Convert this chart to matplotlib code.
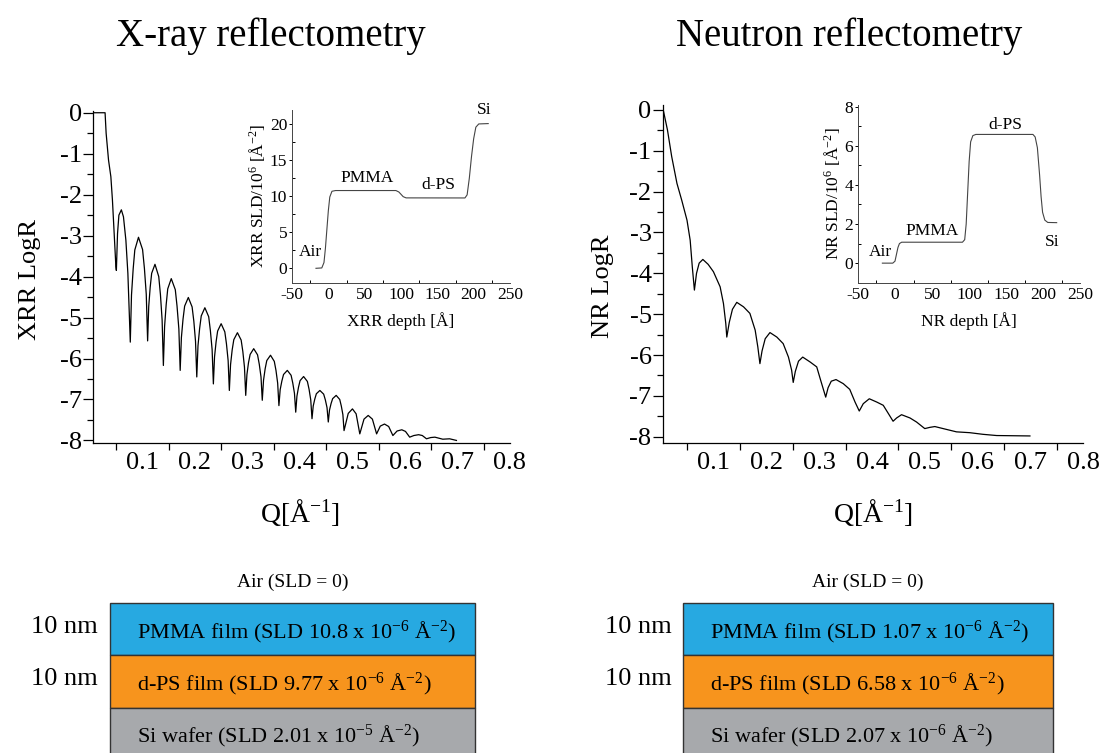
import matplotlib
matplotlib.use('Agg')
import matplotlib.pyplot as plt
from matplotlib.patches import Rectangle
from matplotlib.ticker import MultipleLocator, FixedLocator

plt.rcParams['font.family'] = ['Liberation Serif', 'DejaVu Serif']
plt.rcParams['mathtext.fontset'] = 'custom'
plt.rcParams['mathtext.rm'] = 'Liberation Serif'
plt.rcParams['mathtext.it'] = 'Liberation Serif:italic'
plt.rcParams['mathtext.bf'] = 'Liberation Serif:bold'
plt.rcParams['axes.unicode_minus'] = False

# ---- X-ray reflectivity curve ----
xrr_q = [0.006, 0.029, 0.031, 0.0356, 0.040, 0.043, 0.0464, 0.0496, 0.0505,
         0.0527, 0.0553, 0.060, 0.064, 0.0686, 0.0724, 0.077,
         0.0793, 0.0825, 0.0856, 0.0926, 0.1004, 0.1039, 0.1074, 0.110,
         0.1121, 0.1149, 0.1177, 0.124, 0.1312, 0.1344, 0.1376, 0.140,
         0.1423, 0.1453, 0.1483, 0.155, 0.1627, 0.1660, 0.1695, 0.172,
         0.1743, 0.1774, 0.1805, 0.1875, 0.1947, 0.1980, 0.2012, 0.2036,
         0.2059, 0.2090, 0.2121, 0.219, 0.2263, 0.2295, 0.2328, 0.2352,
         0.2374, 0.2404, 0.2433, 0.250, 0.2570, 0.2601, 0.2633, 0.2656,
         0.2679, 0.2710, 0.2741, 0.281, 0.2881, 0.2913, 0.2944, 0.2968,
         0.2991, 0.3021, 0.3052, 0.312, 0.3193, 0.3226, 0.3259, 0.3283,
         0.3307, 0.3338, 0.3369, 0.344, 0.3512, 0.3544, 0.3576, 0.360,
         0.3624, 0.3656, 0.3688, 0.376, 0.3832, 0.3864, 0.3896, 0.392,
         0.3943, 0.3973, 0.4003, 0.407, 0.4142, 0.4174, 0.4206, 0.423,
         0.4253, 0.4283, 0.4313, 0.438, 0.4452, 0.4484, 0.4516, 0.454,
         0.4563, 0.4593, 0.4623, 0.469, 0.4758, 0.4788, 0.4818, 0.484,
         0.492, 0.500, 0.507, 0.514, 0.522, 0.530, 0.538, 0.546,
         0.553, 0.561, 0.569, 0.577, 0.585, 0.594, 0.601, 0.609,
         0.617, 0.626, 0.633, 0.641, 0.649, 0.657, 0.672, 0.685, 0.698]
xrr_logr = [0.0, 0.0, -0.50, -1.16, -1.56, -2.13, -2.95, -3.76, -3.85,
            -2.95, -2.50, -2.37, -2.54, -3.11, -3.92, -5.60,
            -4.45, -3.81, -3.35, -3.04, -3.34, -3.80, -4.43, -5.57,
            -4.73, -4.26, -3.92, -3.70, -4.00, -4.44, -5.06, -6.17,
            -5.22, -4.69, -4.30, -4.05, -4.32, -4.72, -5.28, -6.29,
            -5.49, -5.04, -4.72, -4.51, -4.74, -5.09, -5.58, -6.45,
            -5.69, -5.27, -4.96, -4.76, -4.98, -5.32, -5.78, -6.62,
            -5.96, -5.59, -5.33, -5.15, -5.35, -5.64, -6.05, -6.78,
            -6.15, -5.79, -5.54, -5.37, -5.55, -5.83, -6.21, -6.90,
            -6.39, -6.10, -5.90, -5.76, -5.91, -6.14, -6.45, -7.02,
            -6.53, -6.25, -6.05, -5.92, -6.07, -6.29, -6.60, -7.15,
            -6.76, -6.55, -6.39, -6.29, -6.41, -6.60, -6.85, -7.31,
            -6.92, -6.70, -6.54, -6.44, -6.56, -6.75, -7.01, -7.47,
            -7.16, -6.99, -6.86, -6.78, -6.87, -7.01, -7.20, -7.55,
            -7.26, -7.10, -6.98, -6.90, -7.00, -7.16, -7.37, -7.76,
            -7.34, -7.23, -7.35, -7.84, -7.48, -7.39, -7.48, -7.84,
            -7.65, -7.60, -7.66, -7.88, -7.77, -7.74, -7.78, -7.92,
            -7.88, -7.86, -7.88, -7.96, -7.93, -7.92, -7.97, -7.96, -8.00]

# ---- neutron reflectivity curve ----
nr_q = [0.005, 0.013, 0.021, 0.031, 0.040, 0.050, 0.056, 0.060, 0.064,
        0.068, 0.073, 0.080, 0.090, 0.100, 0.1127, 0.119, 0.1234, 0.1253,
        0.130, 0.136, 0.1442, 0.157, 0.169, 0.179, 0.184, 0.188,
        0.192, 0.198, 0.207, 0.220, 0.232, 0.242, 0.248, 0.251,
        0.255, 0.261, 0.269, 0.283, 0.2955, 0.303, 0.3125,
        0.317, 0.323, 0.332, 0.3457, 0.358, 0.368, 0.376,
        0.3836, 0.395, 0.409, 0.4214, 0.431, 0.440,
        0.4467, 0.456, 0.472, 0.4845, 0.500, 0.5096, 0.519,
        0.541, 0.560, 0.585, 0.610, 0.636, 0.699]
nr_logr = [0.0, -0.49, -1.14, -1.80, -2.21, -2.70, -3.19, -3.84, -4.41,
           -4.00, -3.75, -3.66, -3.78, -3.96, -4.33, -4.74, -5.23, -5.56,
           -5.20, -4.88, -4.71, -4.82, -4.98, -5.39, -5.80, -6.21,
           -5.90, -5.60, -5.45, -5.56, -5.72, -6.05, -6.37, -6.67,
           -6.40, -6.15, -6.05, -6.17, -6.29, -6.62, -7.03,
           -6.80, -6.64, -6.60, -6.70, -6.84, -7.15, -7.37,
           -7.19, -7.07, -7.15, -7.23, -7.43, -7.62,
           -7.54, -7.46, -7.54, -7.64, -7.80, -7.77, -7.75,
           -7.82, -7.88, -7.90, -7.94, -7.97, -7.98]

# ---- SLD depth profiles (insets) ----
xrr_depth = [-17, -9, -6, -4, -2, 0, 2, 5, 10, 93, 97, 100, 103, 107,
             188, 191, 194, 197, 200, 203, 207, 220]
xrr_sld = [0, 0.05, 0.8, 2.8, 5.4, 8.0, 9.9, 10.7, 10.8, 10.8, 10.6, 10.28,
           9.95, 9.78, 9.77, 10.2, 12.5, 15.5, 18.0, 19.6, 20.05, 20.1]
nr_depth = [-17, -3, 0, 2, 4, 6, 9, 91, 94, 96, 98, 100, 102, 105, 109,
            186, 189, 192, 195, 197, 199, 202, 206, 218]
nr_sld = [0, 0, 0.1, 0.45, 0.8, 1.0, 1.07, 1.07, 1.2, 2.0, 3.6, 5.2, 6.2,
          6.52, 6.58, 6.58, 6.45, 5.9, 4.5, 3.4, 2.6, 2.2, 2.08, 2.07]

# ---- layer stacks ----
layer_thickness_nm = [10, 10]
layer_colors = ['#27a9e1', '#f7941d', '#a7a9ac']
xrr_layers = ['PMMA film (SLD 10.8 x 10$^{-6}$ Å$^{-2}$)',
              'd-PS film (SLD 9.77 x 10$^{-6}$ Å$^{-2}$)',
              'Si wafer (SLD 2.01 x 10$^{-5}$ Å$^{-2}$)']
nr_layers = ['PMMA film (SLD 1.07 x 10$^{-6}$ Å$^{-2}$)',
             'd-PS film (SLD 6.58 x 10$^{-6}$ Å$^{-2}$)',
             'Si wafer (SLD 2.07 x 10$^{-6}$ Å$^{-2}$)']

W, H = 1103, 753
fig = plt.figure(figsize=(W / 100, H / 100), dpi=100)


def main_axes(rect, xmin, q, logr, ylim):
    ax = fig.add_axes(rect)
    ax.plot(q, logr, color='black', lw=0.9)
    ax.spines['top'].set_visible(False)
    ax.spines['right'].set_visible(False)
    ax.set_xlim(xmin, 0.8)
    ax.set_ylim(*ylim)
    ax.set_xticks([0.1, 0.2, 0.3, 0.4, 0.5, 0.6, 0.7, 0.8])
    ax.xaxis.set_minor_locator(FixedLocator([0.05, 0.15, 0.25, 0.35, 0.45, 0.55, 0.65, 0.75]))
    ax.set_yticks(range(-8, 1))
    ax.yaxis.set_minor_locator(MultipleLocator(0.5))
    ax.tick_params(axis='x', which='major', length=0, labelsize=19, pad=6)
    ax.tick_params(axis='x', which='minor', length=5, width=0.9)
    ax.tick_params(axis='y', which='major', length=7, width=0.9, labelsize=19, pad=1)
    ax.tick_params(axis='y', which='minor', length=4, width=0.9)
    for s in ['left', 'bottom']:
        ax.spines[s].set_linewidth(0.9)
    return ax


def inset_axes(rect, depth, sld, ylim, yticks, ymin_step):
    ax = fig.add_axes(rect)
    ax.plot(depth, sld, color='#444444', lw=0.8)
    ax.spines['top'].set_visible(False)
    ax.spines['right'].set_visible(False)
    ax.set_xlim(-50, 250)
    ax.set_ylim(*ylim)
    ax.set_xticks(range(-50, 251, 50))
    ax.xaxis.set_minor_locator(FixedLocator(range(-25, 250, 50)))
    ax.set_yticks(yticks)
    ax.yaxis.set_minor_locator(MultipleLocator(ymin_step))
    ax.tick_params(axis='x', which='major', length=0, labelsize=12.5, pad=3)
    ax.tick_params(axis='x', which='minor', length=2.5, direction='in', width=0.7)
    ax.tick_params(axis='y', which='major', length=2.5, labelsize=12.5, pad=1, width=0.7)
    ax.tick_params(axis='y', which='minor', length=2, direction='in', width=0.7)
    for s in ['left', 'bottom']:
        ax.spines[s].set_linewidth(0.7)
        ax.spines[s].set_color('#444444')
    ax.patch.set_alpha(0)
    return ax


def stack(rect, names, show_thickness):
    ax = fig.add_axes(rect)
    ax.set_xlim(0, 1)
    ax.set_ylim(28.7, -8.3)
    ax.axis('off')
    ax.text(0.5, -4.1, 'Air (SLD = 0)', ha='center', va='center', fontsize=14)
    top = 0
    for i, name in enumerate(names):
        thick = layer_thickness_nm[i] if i < len(layer_thickness_nm) else 20
        ax.add_patch(Rectangle((0, top), 1, thick, facecolor=layer_colors[i],
                               edgecolor='#333333', lw=1, clip_on=False))
        ax.text(0.074, top + 5.6, name, ha='left', va='center', fontsize=16)
        if i < len(layer_thickness_nm):
            ax.text(show_thickness, top + 4.5, '%d nm' % layer_thickness_nm[i],
                    ha='right', va='center', fontsize=19)
        top += thick


# X-ray panel
ax1 = main_axes([93 / W, 1 - 443.3 / H, 417 / W, 332.6 / H], 0.006, xrr_q, xrr_logr, (-8.07, 0.05))
ins1 = inset_axes([292 / W, 1 - 282.7 / H, 218 / W, 172.8 / H], xrr_depth, xrr_sld, (-2, 22),
                  [0, 5, 10, 15, 20], 2.5)
ins1.text(-25, 2.3, 'Air', ha='center', va='center', fontsize=12.5)
ins1.text(53, 12.5, 'PMMA', ha='center', va='center', fontsize=12.5)
ins1.text(151, 11.6, 'd-PS', ha='center', va='center', fontsize=12.5)
ins1.text(215, 22.0, 'Si', ha='center', va='center', fontsize=12.5)
ins1.set_xlabel('XRR depth [Å]', fontsize=12.5, labelpad=7)
ins1.set_ylabel('XRR SLD/10$^{6}$ [Å$^{-2}$]', fontsize=12.5, labelpad=2)

# Neutron panel
ax2 = main_axes([662.7 / W, 1 - 443.3 / H, 420.6 / W, 338.3 / H], 0.004, nr_q, nr_logr, (-8.16, 0.12))
ins2 = inset_axes([857.9 / W, 1 - 282.7 / H, 222.5 / W, 178 / H], nr_depth, nr_sld, (-1, 8.1),
                  [0, 2, 4, 6, 8], 1)
ins2.text(-20, 0.56, 'Air', ha='center', va='center', fontsize=12.5)
ins2.text(50, 1.62, 'PMMA', ha='center', va='center', fontsize=12.5)
ins2.text(149, 7.07, 'd-PS', ha='center', va='center', fontsize=12.5)
ins2.text(212, 1.1, 'Si', ha='center', va='center', fontsize=12.5)
ins2.set_xlabel('NR depth [Å]', fontsize=12.5, labelpad=7)
ins2.set_ylabel('NR SLD/10$^{6}$ [Å$^{-2}$]', fontsize=12.5, labelpad=2)

# titles and axis labels
fig.text(271 / W, 1 - 36 / H, 'X-ray reflectometry', ha='center', va='center', fontsize=28)
fig.text(849 / W, 1 - 36 / H, 'Neutron reflectometry', ha='center', va='center', fontsize=28)
fig.text(30 / W, 1 - 280 / H, 'XRR LogR', rotation=90, ha='center', va='center', fontsize=19)
fig.text(603 / W, 1 - 286 / H, 'NR LogR', rotation=90, ha='center', va='center', fontsize=19)
fig.text(300 / W, 1 - 512 / H, 'Q[Å$^{-1}$]', ha='center', va='center', fontsize=20)
fig.text(873 / W, 1 - 512 / H, 'Q[Å$^{-1}$]', ha='center', va='center', fontsize=20)

# layer stacks
stack([110 / W, 0, 365 / W, 193 / H], xrr_layers, -0.033)
stack([682.7 / W, 0, 370 / W, 193 / H], nr_layers, -0.03)

fig.savefig('out.png', dpi=100)
